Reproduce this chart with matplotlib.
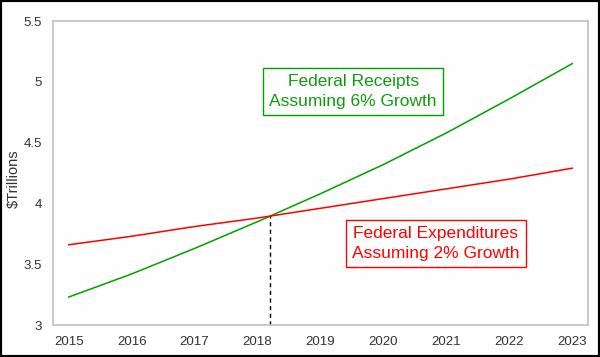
import matplotlib
matplotlib.use("Agg")
import matplotlib.pyplot as plt
import numpy as np
from matplotlib.patches import Rectangle

plt.rcParams["font.family"] = ["Liberation Sans", "DejaVu Sans"]

# values ($ trillions)
years = [2015, 2016, 2017, 2018, 2019, 2020, 2021, 2022, 2023]
receipts = [3.23, 3.42, 3.63, 3.85, 4.08, 4.32, 4.58, 4.86, 5.15]
expenditures = [3.66, 3.73, 3.81, 3.88, 3.96, 4.04, 4.12, 4.20, 4.29]
yticks = [3, 3.5, 4, 4.5, 5, 5.5]
ytick_labels = ["3", "3.5", "4", "4.5", "5", "5.5"]

green = "#00a000"
red = "#ff0000"

fig = plt.figure(figsize=(6, 3.57), dpi=100)
fig.patch.set_facecolor("#fdfefd")
ax = fig.add_axes([0.0883, 0.0896, 0.8917, 0.8514])
ax.set_facecolor("#fdfefd")

ax.plot(years, receipts, color=green, lw=1.1)
ax.plot(years, expenditures, color=red, lw=1.1)

# where the two lines cross
x = np.array(years, dtype=float)
d = np.array(receipts) - np.array(expenditures)
i = np.where(np.diff(np.sign(d)) > 0)[0][0]
t = -d[i] / (d[i + 1] - d[i])
xc = x[i] + t * (x[i + 1] - x[i])
yc = expenditures[i] + t * (expenditures[i + 1] - expenditures[i])
ax.plot([xc, xc], [3, yc], color="black", lw=1, ls=(0, (3, 2.5)))

ax.set_xlim(2014.75, 2023.25)
ax.set_ylim(3, 5.5)
ax.set_xticks(years)
ax.set_xticklabels([str(y) for y in years])
ax.set_yticks(yticks)
ax.set_yticklabels(ytick_labels)
ax.tick_params(length=0, labelsize=9.5, colors="#333333", pad=8)
for s in ax.spines.values():
    s.set_color("#c0c0c0")
    s.set_linewidth(1.2)

ax.set_ylabel("$Trillions", fontsize=10.5, color="#333333")
ax.yaxis.set_label_coords(-0.060, 0.48)

ax.text(2019.52, 4.92, "Federal Receipts\nAssuming 6% Growth", color="#109a10",
        fontsize=12.5, ha="center", va="center", linespacing=1.4,
        bbox=dict(boxstyle="square,pad=0.36", fc="white", ec=green, lw=1))
ax.text(2020.83, 3.67, "Federal Expenditures\nAssuming 2% Growth", color=red,
        fontsize=12.5, ha="center", va="center", linespacing=1.4,
        bbox=dict(boxstyle="square,pad=0.36", fc="white", ec=red, lw=1))

fig.patches.append(Rectangle((0, 0), 1, 1, transform=fig.transFigure,
                             fill=False, ec="black", lw=3))

fig.savefig("out.png", dpi=100, facecolor=fig.get_facecolor())
